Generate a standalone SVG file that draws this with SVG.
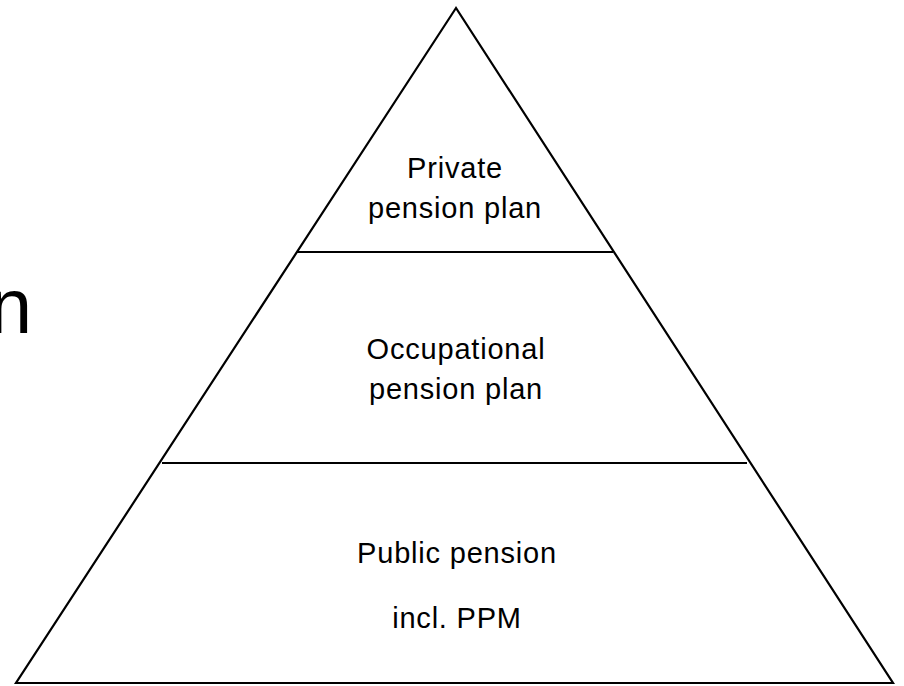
<svg xmlns="http://www.w3.org/2000/svg" width="904" height="686" viewBox="0 0 904 686">
  <style>
    .edge { fill: none; stroke: #000; stroke-width: 2.2; stroke-linejoin: miter; }
    .lbl { font-family: "Liberation Sans", Arial, sans-serif; font-size: 29px; fill: #000; text-anchor: middle; letter-spacing: 0.8px; }
    .big { font-family: "Liberation Sans", Arial, sans-serif; font-size: 77px; fill: #000; text-anchor: end; }
  </style>
  <rect width="904" height="686" fill="#fff"/>

  <!-- partly visible heading on the left edge -->
  <text class="big" x="32" y="333">n</text>

  <g id="connectors">
    <polygon class="edge" points="456,8 16,683 893,683"/>
    <line class="edge" x1="297" y1="252" x2="613" y2="252"/>
    <line class="edge" x1="162" y1="463" x2="747" y2="463"/>
  </g>

  <g id="private-pension">
    <text class="lbl" x="455" y="178">Private</text>
    <text class="lbl" x="455" y="218">pension plan</text>
  </g>

  <g id="occupational-pension">
    <text class="lbl" x="456" y="359">Occupational</text>
    <text class="lbl" x="456" y="399">pension plan</text>
  </g>

  <g id="public-pension">
    <text class="lbl" x="457" y="563">Public pension</text>
    <text class="lbl" x="457" y="628">incl. PPM</text>
  </g>
</svg>
